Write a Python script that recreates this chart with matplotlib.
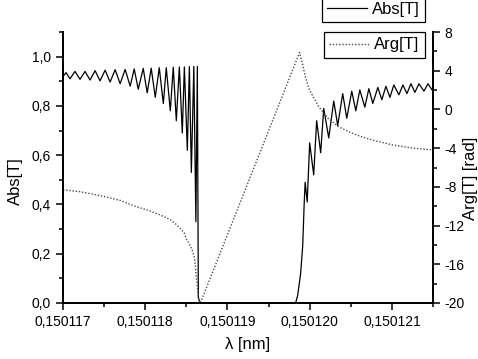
import numpy as np
import matplotlib
matplotlib.use("Agg")
import matplotlib.pyplot as plt
from matplotlib.ticker import FuncFormatter, MultipleLocator, FixedLocator

plt.rcParams['font.family'] = ['Liberation Sans', 'DejaVu Sans']

# --- data: wavelength offset from 0.150117 nm, in units of 1e-6 nm ---
lam0 = 0.150117
off_abs = [0.000, 0.037, 0.085, 0.146, 0.207, 0.268, 0.329, 0.390, 0.451, 0.512,
           0.573, 0.634, 0.695, 0.756, 0.817, 0.866, 0.915, 0.976, 1.024, 1.073,
           1.122, 1.171, 1.220, 1.256, 1.305, 1.341, 1.378, 1.415, 1.451, 1.476,
           1.512, 1.537, 1.561, 1.591, 1.616, 1.634, 1.646, 1.671,
           2.829, 2.854, 2.890, 2.915, 2.933, 2.945, 2.970, 3.000, 3.049, 3.085,
           3.134, 3.171, 3.232, 3.293, 3.341, 3.402, 3.451, 3.512, 3.561, 3.610,
           3.671, 3.720, 3.768, 3.829, 3.878, 3.927, 3.976, 4.024, 4.085, 4.134,
           4.183, 4.232, 4.280, 4.329, 4.390, 4.439, 4.488, 4.512]
abs_t = [0.920, 0.935, 0.910, 0.940, 0.908, 0.940, 0.905, 0.943, 0.902, 0.945,
         0.897, 0.947, 0.890, 0.948, 0.880, 0.950, 0.868, 0.952, 0.853, 0.953,
         0.835, 0.955, 0.810, 0.955, 0.780, 0.957, 0.740, 0.958, 0.690, 0.958,
         0.620, 0.960, 0.530, 0.960, 0.330, 0.960, 0.020, 0.000,
         0.000, 0.030, 0.120, 0.230, 0.400, 0.490, 0.410, 0.650, 0.520, 0.740,
         0.610, 0.790, 0.670, 0.820, 0.720, 0.850, 0.750, 0.860, 0.780, 0.865,
         0.795, 0.870, 0.810, 0.875, 0.825, 0.880, 0.835, 0.885, 0.845, 0.885,
         0.850, 0.890, 0.855, 0.890, 0.860, 0.890, 0.865, 0.880]

off_arg = [0.000, 0.207, 0.451, 0.695, 0.878, 1.061, 1.183, 1.305, 1.366, 1.427,
           1.476, 1.500, 1.524, 1.549, 1.573, 1.598, 1.610, 1.622, 1.634, 1.646,
           1.659, 1.671, 2.878, 2.915, 2.951, 2.988, 3.037, 3.110, 3.220, 3.354,
           3.500, 3.622, 3.780, 4.024, 4.268, 4.512]
arg_t = [-8.3, -8.5, -8.9, -9.4, -10.0, -10.5, -10.9, -11.4, -11.8, -12.3,
         -12.8, -13.4, -13.7, -14.1, -14.6, -15.3, -16.2, -17.3, -18.3, -19.3,
         -19.9, -20.0, 5.9, 4.6, 3.3, 2.2, 1.4, 0.3, -0.9, -1.8,
         -2.4, -2.8, -3.2, -3.7, -4.0, -4.2]

x_ticks = [0.150117, 0.150118, 0.150119, 0.150120, 0.150121]

lam_abs = lam0 + np.array(off_abs) * 1e-6
lam_arg = lam0 + np.array(off_arg) * 1e-6

fig = plt.figure(figsize=(4.78, 3.59), dpi=100)
ax = fig.add_axes([63 / 478, 56 / 359, 370 / 478, 271 / 359])
ax2 = ax.twinx()

l1, = ax.plot(lam_abs, abs_t, color='black', lw=0.9)
l2, = ax2.plot(lam_arg, arg_t, color='0.3', lw=1.0, linestyle=(0, (1, 1.3)))

ax.set_xlim(0.150117, 0.1501215)
ax.set_ylim(0, 1.1)
ax2.set_ylim(-20, 8)

ax.xaxis.set_major_locator(FixedLocator(x_ticks))
ax.xaxis.set_minor_locator(MultipleLocator(0.5e-6))
ax.xaxis.set_major_formatter(FuncFormatter(lambda v, p: f"{v:.6f}".replace('.', ',')))
ax.yaxis.set_major_locator(MultipleLocator(0.2))
ax.yaxis.set_minor_locator(MultipleLocator(0.1))
ax.yaxis.set_major_formatter(FuncFormatter(lambda v, p: f"{v:.1f}".replace('.', ',')))
ax2.yaxis.set_major_locator(MultipleLocator(4))
ax2.yaxis.set_minor_locator(MultipleLocator(2))
ax2.yaxis.set_major_formatter(FuncFormatter(lambda v, p: f"{v:.0f}"))

for a in (ax, ax2):
    a.spines['top'].set_visible(False)
    for s in a.spines.values():
        s.set_linewidth(1.3)
    a.tick_params(which='major', direction='out', length=5, width=1.1, labelsize=10)
    a.tick_params(which='minor', direction='out', length=3, width=1.1)

ax.set_xlabel("λ [nm]", fontsize=12)
ax.set_ylabel("Abs[T]", fontsize=12)
ax2.set_ylabel("Arg[T] [rad]", fontsize=12)
ax.xaxis.set_label_coords(0.5, -0.125)
ax.yaxis.set_label_coords(-0.108, 0.45)
ax2.yaxis.set_label_coords(1.08, 0.46)

leg_kw = dict(loc='upper right', bbox_transform=fig.transFigure, fontsize=12,
              frameon=True, fancybox=False, edgecolor='black', framealpha=1,
              borderpad=0.32, handlelength=2.4, handletextpad=0.3, borderaxespad=0)
leg1 = fig.legend([l1], ['Abs[T]'], bbox_to_anchor=(425 / 478, 1.01), **leg_kw)
leg2 = fig.legend([l2], ['Arg[T]'], bbox_to_anchor=(425 / 478, 1 - 32 / 359), **leg_kw)
for lg in (leg1, leg2):
    lg.get_frame().set_linewidth(0.9)

fig.savefig("out.png", dpi=100)
